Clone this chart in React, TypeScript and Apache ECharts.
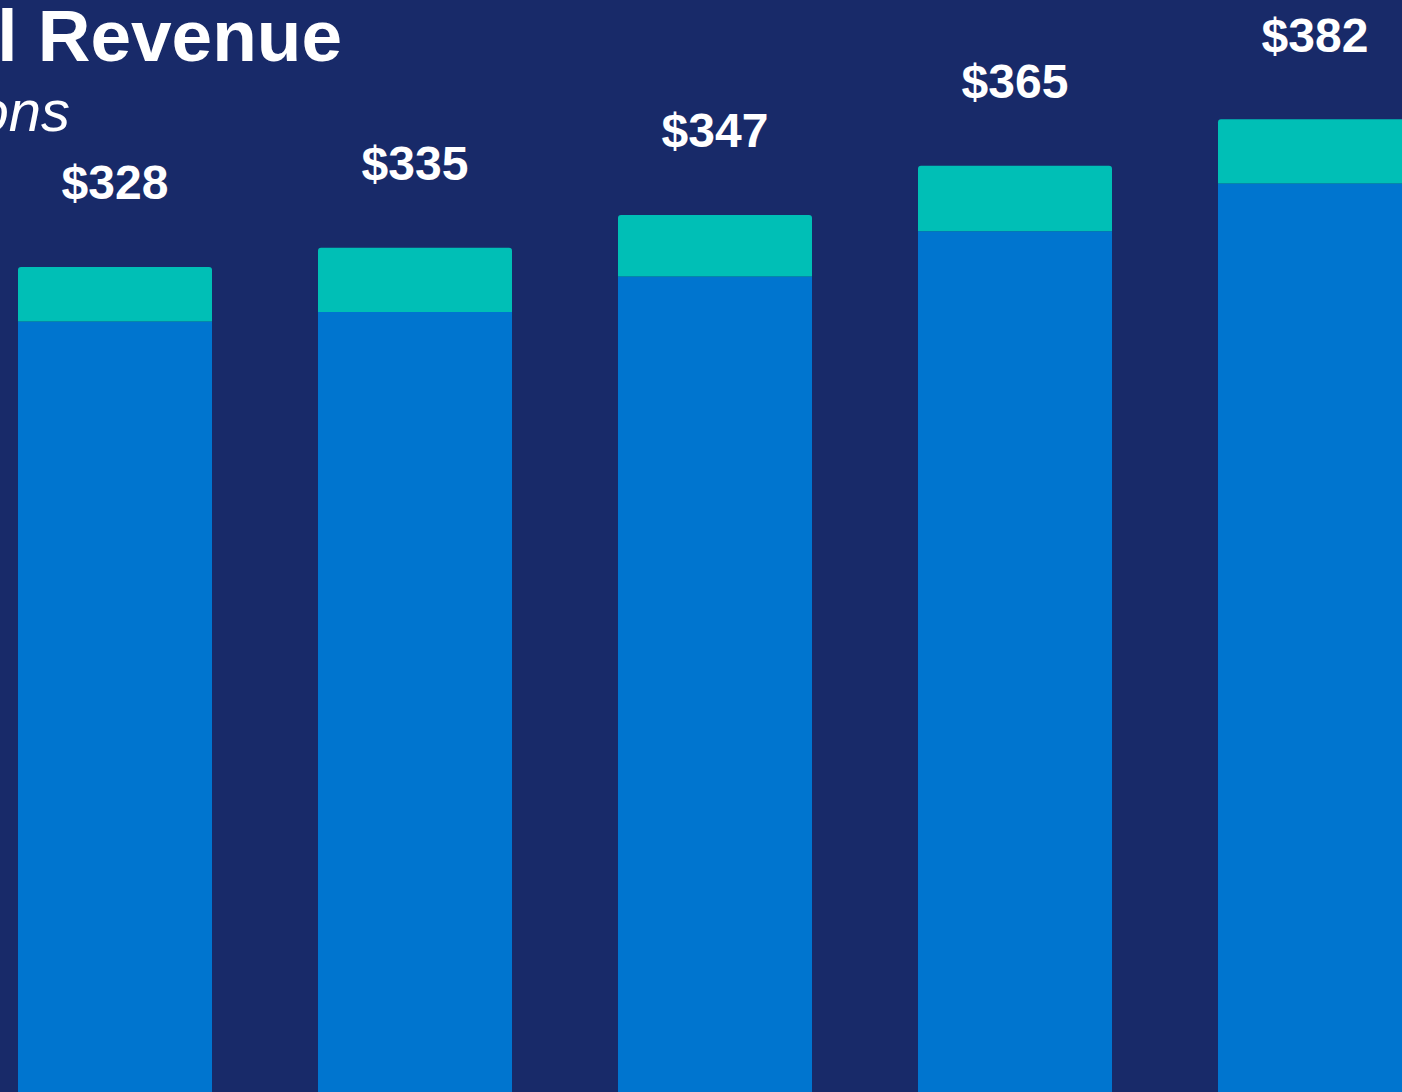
import React, { useEffect, useRef } from "react";
import * as echarts from "echarts";

// Fiscal periods along the x axis
const categories = ["FY1", "FY2", "FY3", "FY4", "FY5"];
// Core revenue ($B) – lower blue segment
const coreRevenue = [308, 311.5, 324.5, 341, 358.5];
// Additional revenue ($B) – upper teal segment
const otherRevenue = [20, 23.5, 22.5, 24, 23.5];
// Total labels printed above each stack
const totalLabels = ["$328", "$335", "$347", "$365", "$382"];

const BG = "#182A69";
const BLUE = "#0075CF";
const TEAL = "#00BFB6";

// The slide is wider than the viewport; it is shifted left so only part of it shows
const OFFSET_X = 400;

export default function App() {
  const ref = useRef<HTMLDivElement>(null);

  useEffect(() => {
    if (!ref.current) return;
    const chart = echarts.init(ref.current, undefined, { renderer: "svg" });
    chart.setOption({
      animation: false,
      backgroundColor: BG,
      grid: { left: OFFSET_X - 35, width: 1500, top: 70, bottom: 36, containLabel: false },
      xAxis: {
        type: "category",
        data: categories,
        axisLine: { show: false },
        axisTick: { show: false },
        axisLabel: { show: false },
      },
      yAxis: {
        type: "value",
        min: 0,
        max: 400,
        show: false,
        splitLine: { show: false },
      },
      graphic: [
        {
          type: "text",
          x: OFFSET_X + 342,
          y: -1,
          style: {
            text: "Total Revenue",
            fill: "#FFFFFF",
            font: "bold 73px 'Liberation Sans', Arial, sans-serif",
            textAlign: "right",
            textVerticalAlign: "top",
          },
        },
        {
          type: "text",
          x: OFFSET_X + 70,
          y: 81,
          style: {
            text: "$ in billions",
            fill: "#FFFFFF",
            font: "italic 58px 'Liberation Sans', Arial, sans-serif",
            textAlign: "right",
            textVerticalAlign: "top",
          },
        },
      ],
      series: [
        {
          name: "Core",
          type: "bar",
          stack: "total",
          data: coreRevenue,
          barWidth: 194,
          itemStyle: { color: BLUE },
        },
        {
          name: "Other",
          type: "bar",
          stack: "total",
          data: otherRevenue,
          barWidth: 194,
          itemStyle: { color: TEAL, borderRadius: [3, 3, 0, 0] },
          label: {
            show: true,
            position: "top",
            distance: 60,
            color: "#FFFFFF",
            fontFamily: "'Liberation Sans', Arial, sans-serif",
            fontWeight: "bold",
            fontSize: 48,
            formatter: (p: any) => totalLabels[p.dataIndex],
          },
        },
      ],
    });
    return () => chart.dispose();
  }, []);

  return (
    <div
      style={{
        position: "fixed",
        left: 0,
        top: 0,
        width: 1402,
        height: 1092,
        overflow: "hidden",
        background: BG,
      }}
    >
      <div
        ref={ref}
        style={{ position: "absolute", left: -OFFSET_X, top: 0, width: 2000, height: 1200 }}
      />
    </div>
  );
}
